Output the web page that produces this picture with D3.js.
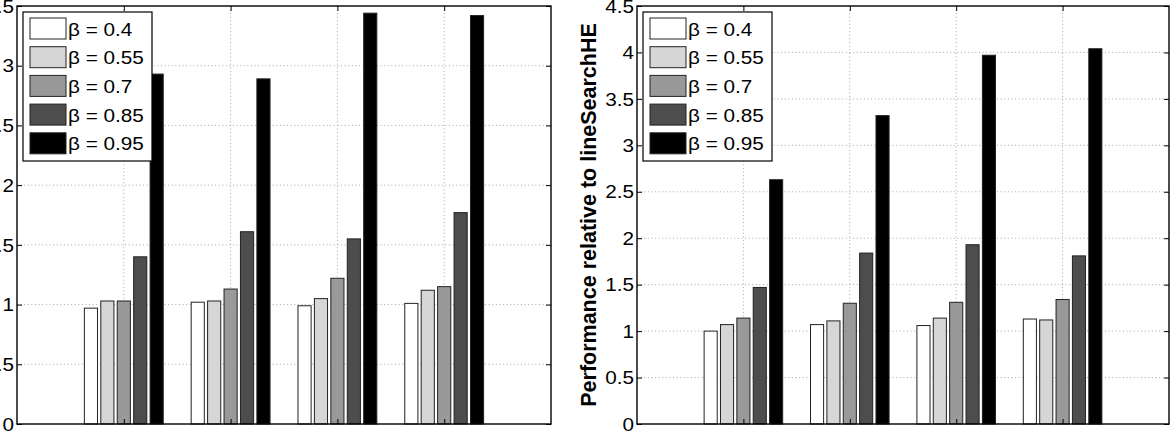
<!DOCTYPE html>
<html>
<head>
<meta charset="utf-8">
<script src="https://cdn.jsdelivr.net/npm/d3@7"></script>
<style>
  body { margin: 0; background: #fff; }
  svg { display: block; font-family: "Liberation Sans", Arial, sans-serif; }
</style>
</head>
<body>
<div id="chart"></div>
<script>
// groups on the x axis (no tick labels shown)
const groups = [1, 2, 3, 4];
const betaLabels = ["β = 0.4", "β = 0.55", "β = 0.7", "β = 0.85", "β = 0.95"];
const betaColors = ["#ffffff", "#d6d6d6", "#999999", "#4d4d4d", "#000000"];

// left panel, one array per beta, one value per group
const left040 = [0.97, 1.02, 0.99, 1.01];
const left055 = [1.03, 1.03, 1.05, 1.12];
const left070 = [1.03, 1.13, 1.22, 1.15];
const left085 = [1.40, 1.61, 1.55, 1.77];
const left095 = [2.93, 2.89, 3.44, 3.42];
const leftTicks = [0, 0.5, 1, 1.5, 2, 2.5, 3, 3.5];

// right panel
const right040 = [1.00, 1.07, 1.06, 1.13];
const right055 = [1.07, 1.11, 1.14, 1.12];
const right070 = [1.14, 1.30, 1.31, 1.34];
const right085 = [1.47, 1.84, 1.93, 1.81];
const right095 = [2.63, 3.32, 3.97, 4.04];
const rightTicks = [0, 0.5, 1, 1.5, 2, 2.5, 3, 3.5, 4, 4.5];
const rightYLabel = "Performance relative to lineSearchHE";

const W = 1176, H = 432;
const textStretch = 1.12; // the reference text is a bit wide

const svg = d3.select("#chart")
  .append("svg")
  .attr("width", W)
  .attr("height", H);

function drawPanel(opts) {
  let series = opts.series;
  let x0 = opts.left, x1 = opts.right, top = 6, bottom = 424;
  let yMax = d3.max(opts.ticks);

  let xScale = d3.scaleLinear().domain([0, 5]).range([x0, x1]);
  let yScale = d3.scaleLinear().domain([0, yMax]).range([bottom, top]);

  // matlab grouped bar geometry
  let n = series.length;
  let groupWidth = Math.min(0.8, n / (n + 1.5));
  let pitch = groupWidth / n;
  let barW = pitch * 0.8;

  let g = svg.append("g");

  // grid lines
  g.append("g")
    .attr("class", "y-grid")
    .selectAll("line")
    .data(opts.ticks.filter(t => t > 0 && t < yMax))
    .enter()
    .append("line")
    .attr("x1", x0).attr("x2", x1)
    .attr("y1", d => yScale(d)).attr("y2", d => yScale(d))
    .style("stroke", "#a8a8a8")
    .style("stroke-width", 1)
    .style("stroke-dasharray", "1,2.6");

  g.append("g")
    .attr("class", "x-grid")
    .selectAll("line")
    .data(groups)
    .enter()
    .append("line")
    .attr("x1", d => xScale(d)).attr("x2", d => xScale(d))
    .attr("y1", top).attr("y2", bottom)
    .style("stroke", "#a8a8a8")
    .style("stroke-width", 1)
    .style("stroke-dasharray", "1,2.6");

  // bars
  series.forEach((vals, i) => {
    g.append("g")
      .selectAll("rect")
      .data(vals)
      .enter()
      .append("rect")
      .attr("x", (d, j) => xScale(groups[j] - groupWidth / 2 + pitch * i + (pitch - barW) / 2))
      .attr("width", xScale(barW) - xScale(0))
      .attr("y", d => yScale(d))
      .attr("height", d => yScale(0) - yScale(d))
      .style("fill", betaColors[i])
      .style("stroke", "#222")
      .style("stroke-width", 1);
  });

  // y axes, ticks inward, on both sides
  g.append("g")
    .attr("transform", "translate(" + x0 + ",0)")
    .call(d3.axisLeft(yScale).tickValues(opts.ticks).tickSize(-5).tickFormat(""))
    .call(a => a.select(".domain").remove());

  g.append("g")
    .attr("transform", "translate(" + x1 + ",0)")
    .call(d3.axisRight(yScale).tickValues(opts.ticks).tickSize(-5).tickFormat(""))
    .call(a => a.select(".domain").remove());

  // tick labels
  g.append("g")
    .selectAll("text")
    .data(opts.ticks)
    .enter()
    .append("text")
    .attr("transform", d => "translate(" + (x0 - 3) + "," + yScale(d) + ") scale(" + textStretch + ",1)")
    .attr("text-anchor", "end")
    .attr("dy", "0.36em")
    .style("font-size", "18.5px")
    .text(d => d3.format("")(d));

  // x ticks top and bottom, no labels
  g.append("g")
    .attr("transform", "translate(0," + bottom + ")")
    .call(d3.axisBottom(xScale).tickValues(groups).tickSize(-5).tickFormat(""))
    .call(a => a.select(".domain").remove());

  g.append("g")
    .attr("transform", "translate(0," + top + ")")
    .call(d3.axisTop(xScale).tickValues(groups).tickSize(-5).tickFormat(""))
    .call(a => a.select(".domain").remove());

  // box
  g.append("rect")
    .attr("x", x0).attr("y", top)
    .attr("width", x1 - x0).attr("height", bottom - top)
    .style("fill", "none")
    .style("stroke", "#000")
    .style("stroke-width", 1.4);

  // legend
  let lx = x0 + 6, ly = 12;
  let leg = g.append("g").attr("transform", "translate(" + lx + "," + ly + ")");
  leg.append("rect")
    .attr("width", 129).attr("height", 149)
    .style("fill", "#fff")
    .style("stroke", "#000")
    .style("stroke-width", 1.2);

  let rows = leg.selectAll(".row")
    .data(betaLabels)
    .enter()
    .append("g")
    .attr("class", "row")
    .attr("transform", (d, i) => "translate(7," + (6 + i * 28.7) + ")");

  rows.append("rect")
    .attr("width", 36).attr("height", 21)
    .style("fill", (d, i) => betaColors[i])
    .style("stroke", "#222")
    .style("stroke-width", 1);

  rows.append("text")
    .attr("transform", "translate(38,17.5) scale(" + textStretch + ",1)")
    .style("font-size", "18.5px")
    .text(d => d);

  if (opts.yLabel) {
    g.append("text")
      .attr("transform", "translate(" + (x0 - 41) + "," + ((top + bottom) / 2) + ") rotate(-90)")
      .attr("text-anchor", "middle")
      .style("font-size", "21.5px")
      .style("font-weight", "bold")
      .text(opts.yLabel);
  }
}

drawPanel({
  left: 17, right: 551,
  series: [left040, left055, left070, left085, left095],
  ticks: leftTicks
});

drawPanel({
  left: 637, right: 1169,
  series: [right040, right055, right070, right085, right095],
  ticks: rightTicks,
  yLabel: rightYLabel
});
</script>
</body>
</html>
